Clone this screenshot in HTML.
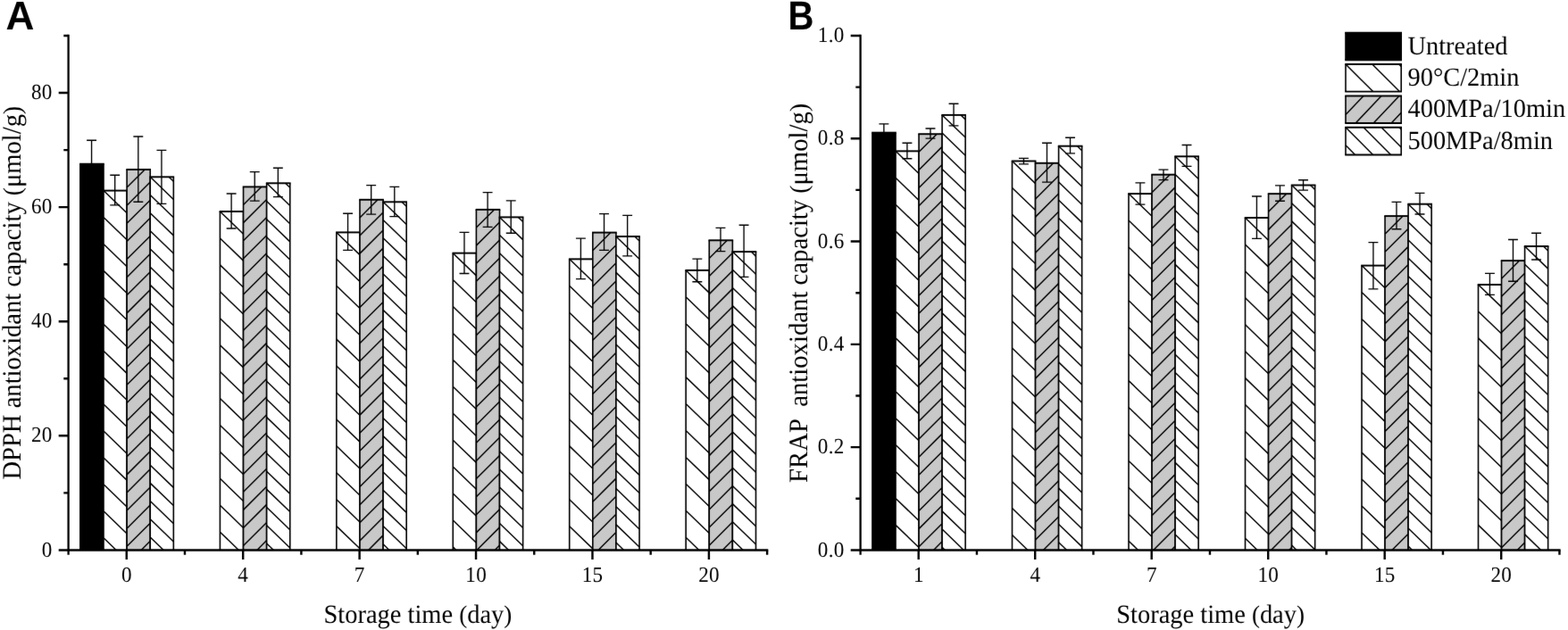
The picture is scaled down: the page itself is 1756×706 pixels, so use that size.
<!DOCTYPE html>
<html lang="en">
<head>
<meta charset="utf-8">
<title>Antioxidant capacity during storage</title>
<style>
html,body{margin:0;padding:0;background:#fff;}
body{width:1756px;height:706px;overflow:hidden;}
svg{display:block;}
text{font-family:"Liberation Serif",serif;fill:#000;white-space:pre;text-rendering:geometricPrecision;}
.tk{font-size:23.1px;letter-spacing:0.3px;}
.tx{font-size:28.45px;}
.pr{font-size:0.95em;}
.lg{font-size:28.4px;}
.pl{font-family:"Liberation Sans",sans-serif;font-weight:bold;font-size:43.3px;}
</style>
</head>
<body>
<svg width="1756" height="706" viewBox="0 0 1756 706" role="img" aria-label="Antioxidant capacity bar charts">
<defs><filter id="soft" x="0" y="0" width="1756" height="706" filterUnits="userSpaceOnUse" color-interpolation-filters="sRGB"><feConvolveMatrix order="3" kernelMatrix="0.00276 0.04704 0.00276 0.04704 0.80077 0.04704 0.00276 0.04704 0.00276" edgeMode="duplicate" preserveAlpha="true"/></filter></defs>
<g filter="url(#soft)">
<rect x="-10" y="-10" width="1776" height="726" fill="#fff"/>
<g id="panel-A">
<g class="bars"><rect x="89.86" y="183.75" width="26.12" height="432.65" fill="#000"/><path d="M89.86 183.75V616.4M115.98 183.75V616.4" fill="none" stroke="#000" stroke-width="1.6"/><path d="M89.06 183.75H116.78" fill="none" stroke="#000" stroke-width="1.95"/>
<rect x="115.98" y="213.6" width="26.12" height="402.8" fill="#fff"/><path d="M115.98 213.6L142.1 238.81M115.98 243.53L142.1 268.74M115.98 273.46L142.1 298.67M115.98 303.39L142.1 328.6M115.98 333.32L142.1 358.53M115.98 363.25L142.1 388.46M115.98 393.18L142.1 418.39M115.98 423.11L142.1 448.32M115.98 453.04L142.1 478.25M115.98 482.97L142.1 508.18M115.98 512.9L142.1 538.11M115.98 542.83L142.1 568.04M115.98 572.76L142.1 597.97M115.98 602.69L130.19 616.4" fill="none" stroke="#000" stroke-width="1.45"/><path d="M115.98 213.6V616.4M142.1 213.6V616.4" fill="none" stroke="#000" stroke-width="1.6"/><path d="M115.18 213.6H142.9" fill="none" stroke="#000" stroke-width="1.95"/>
<rect x="142.1" y="190" width="26.12" height="426.4" fill="#c8c8c8"/><path d="M142.1 210.11L162.21 190M142.1 230.22L168.22 204.1M142.1 250.33L168.22 224.21M142.1 270.44L168.22 244.32M142.1 290.55L168.22 264.43M142.1 310.66L168.22 284.54M142.1 330.77L168.22 304.65M142.1 350.88L168.22 324.76M142.1 370.99L168.22 344.87M142.1 391.1L168.22 364.98M142.1 411.21L168.22 385.09M142.1 431.32L168.22 405.2M142.1 451.43L168.22 425.31M142.1 471.54L168.22 445.42M142.1 491.65L168.22 465.53M142.1 511.76L168.22 485.64M142.1 531.87L168.22 505.75M142.1 551.98L168.22 525.86M142.1 572.09L168.22 545.97M142.1 592.2L168.22 566.08M142.1 612.31L168.22 586.19M158.12 616.4L168.22 606.3" fill="none" stroke="#000" stroke-width="1.45"/><path d="M142.1 190V616.4M168.22 190V616.4" fill="none" stroke="#000" stroke-width="1.6"/><path d="M141.3 190H169.02" fill="none" stroke="#000" stroke-width="1.95"/>
<rect x="168.22" y="198.3" width="26.12" height="418.1" fill="#fff"/><path d="M189.13 198.3L194.34 203.33M168.22 198.3L194.34 223.51M168.22 218.48L194.34 243.69M168.22 238.66L194.34 263.87M168.22 258.84L194.34 284.05M168.22 279.02L194.34 304.23M168.22 299.2L194.34 324.41M168.22 319.38L194.34 344.59M168.22 339.56L194.34 364.77M168.22 359.74L194.34 384.95M168.22 379.92L194.34 405.13M168.22 400.1L194.34 425.31M168.22 420.28L194.34 445.49M168.22 440.46L194.34 465.67M168.22 460.64L194.34 485.85M168.22 480.82L194.34 506.03M168.22 501L194.34 526.21M168.22 521.18L194.34 546.39M168.22 541.36L194.34 566.57M168.22 561.54L194.34 586.75M168.22 581.72L194.34 606.93M168.22 601.9L183.25 616.4" fill="none" stroke="#000" stroke-width="1.45"/><path d="M168.22 198.3V616.4M194.34 198.3V616.4" fill="none" stroke="#000" stroke-width="1.6"/><path d="M167.42 198.3H195.14" fill="none" stroke="#000" stroke-width="1.95"/>
<rect x="246.41" y="237" width="26.12" height="379.4" fill="#fff"/><path d="M246.41 237L272.53 262.21M246.41 266.93L272.53 292.14M246.41 296.86L272.53 322.07M246.41 326.79L272.53 352M246.41 356.72L272.53 381.93M246.41 386.65L272.53 411.86M246.41 416.58L272.53 441.79M246.41 446.51L272.53 471.72M246.41 476.44L272.53 501.65M246.41 506.37L272.53 531.58M246.41 536.3L272.53 561.51M246.41 566.23L272.53 591.44M246.41 596.16L267.38 616.4" fill="none" stroke="#000" stroke-width="1.45"/><path d="M246.41 237V616.4M272.53 237V616.4" fill="none" stroke="#000" stroke-width="1.6"/><path d="M245.61 237H273.33" fill="none" stroke="#000" stroke-width="1.95"/>
<rect x="272.53" y="209.4" width="26.12" height="407" fill="#c8c8c8"/><path d="M272.53 229.51L292.64 209.4M272.53 249.62L298.65 223.5M272.53 269.73L298.65 243.61M272.53 289.84L298.65 263.72M272.53 309.95L298.65 283.83M272.53 330.06L298.65 303.94M272.53 350.17L298.65 324.05M272.53 370.28L298.65 344.16M272.53 390.39L298.65 364.27M272.53 410.5L298.65 384.38M272.53 430.61L298.65 404.49M272.53 450.72L298.65 424.6M272.53 470.83L298.65 444.71M272.53 490.94L298.65 464.82M272.53 511.05L298.65 484.93M272.53 531.16L298.65 505.04M272.53 551.27L298.65 525.15M272.53 571.38L298.65 545.26M272.53 591.49L298.65 565.37M272.53 611.6L298.65 585.48M287.84 616.4L298.65 605.59" fill="none" stroke="#000" stroke-width="1.45"/><path d="M272.53 209.4V616.4M298.65 209.4V616.4" fill="none" stroke="#000" stroke-width="1.6"/><path d="M271.73 209.4H299.45" fill="none" stroke="#000" stroke-width="1.95"/>
<rect x="298.65" y="205.3" width="26.12" height="411.1" fill="#fff"/><path d="M319.56 205.3L324.77 210.33M298.65 205.3L324.77 230.51M298.65 225.48L324.77 250.69M298.65 245.66L324.77 270.87M298.65 265.84L324.77 291.05M298.65 286.02L324.77 311.23M298.65 306.2L324.77 331.41M298.65 326.38L324.77 351.59M298.65 346.56L324.77 371.77M298.65 366.74L324.77 391.95M298.65 386.92L324.77 412.13M298.65 407.1L324.77 432.31M298.65 427.28L324.77 452.49M298.65 447.46L324.77 472.67M298.65 467.64L324.77 492.85M298.65 487.82L324.77 513.03M298.65 508L324.77 533.21M298.65 528.18L324.77 553.39M298.65 548.36L324.77 573.57M298.65 568.54L324.77 593.75M298.65 588.72L324.77 613.93M298.65 608.9L306.42 616.4" fill="none" stroke="#000" stroke-width="1.45"/><path d="M298.65 205.3V616.4M324.77 205.3V616.4" fill="none" stroke="#000" stroke-width="1.6"/><path d="M297.85 205.3H325.57" fill="none" stroke="#000" stroke-width="1.95"/>
<rect x="376.84" y="260.4" width="26.12" height="356" fill="#fff"/><path d="M376.84 260.4L402.96 285.61M376.84 290.33L402.96 315.54M376.84 320.26L402.96 345.47M376.84 350.19L402.96 375.4M376.84 380.12L402.96 405.33M376.84 410.05L402.96 435.26M376.84 439.98L402.96 465.19M376.84 469.91L402.96 495.12M376.84 499.84L402.96 525.05M376.84 529.77L402.96 554.98M376.84 559.7L402.96 584.91M376.84 589.63L402.96 614.84" fill="none" stroke="#000" stroke-width="1.45"/><path d="M376.84 260.4V616.4M402.96 260.4V616.4" fill="none" stroke="#000" stroke-width="1.6"/><path d="M376.04 260.4H403.76" fill="none" stroke="#000" stroke-width="1.95"/>
<rect x="402.96" y="223.8" width="26.12" height="392.6" fill="#c8c8c8"/><path d="M402.96 243.91L423.07 223.8M402.96 264.02L429.08 237.9M402.96 284.13L429.08 258.01M402.96 304.24L429.08 278.12M402.96 324.35L429.08 298.23M402.96 344.46L429.08 318.34M402.96 364.57L429.08 338.45M402.96 384.68L429.08 358.56M402.96 404.79L429.08 378.67M402.96 424.9L429.08 398.78M402.96 445.01L429.08 418.89M402.96 465.12L429.08 439M402.96 485.23L429.08 459.11M402.96 505.34L429.08 479.22M402.96 525.45L429.08 499.33M402.96 545.56L429.08 519.44M402.96 565.67L429.08 539.55M402.96 585.78L429.08 559.66M402.96 605.89L429.08 579.77M412.56 616.4L429.08 599.88" fill="none" stroke="#000" stroke-width="1.45"/><path d="M402.96 223.8V616.4M429.08 223.8V616.4" fill="none" stroke="#000" stroke-width="1.6"/><path d="M402.16 223.8H429.88" fill="none" stroke="#000" stroke-width="1.95"/>
<rect x="429.08" y="226.3" width="26.12" height="390.1" fill="#fff"/><path d="M449.99 226.3L455.2 231.33M429.08 226.3L455.2 251.51M429.08 246.48L455.2 271.69M429.08 266.66L455.2 291.87M429.08 286.84L455.2 312.05M429.08 307.02L455.2 332.23M429.08 327.2L455.2 352.41M429.08 347.38L455.2 372.59M429.08 367.56L455.2 392.77M429.08 387.74L455.2 412.95M429.08 407.92L455.2 433.13M429.08 428.1L455.2 453.31M429.08 448.28L455.2 473.49M429.08 468.46L455.2 493.67M429.08 488.64L455.2 513.85M429.08 508.82L455.2 534.03M429.08 529L455.2 554.21M429.08 549.18L455.2 574.39M429.08 569.36L455.2 594.57M429.08 589.54L455.2 614.75M429.08 609.72L436 616.4" fill="none" stroke="#000" stroke-width="1.45"/><path d="M429.08 226.3V616.4M455.2 226.3V616.4" fill="none" stroke="#000" stroke-width="1.6"/><path d="M428.28 226.3H456" fill="none" stroke="#000" stroke-width="1.95"/>
<rect x="507.27" y="283.65" width="26.12" height="332.75" fill="#fff"/><path d="M507.27 283.65L533.39 308.86M507.27 313.58L533.39 338.79M507.27 343.51L533.39 368.72M507.27 373.44L533.39 398.65M507.27 403.37L533.39 428.58M507.27 433.3L533.39 458.51M507.27 463.23L533.39 488.44M507.27 493.16L533.39 518.37M507.27 523.09L533.39 548.3M507.27 553.02L533.39 578.23M507.27 582.95L533.39 608.16M507.27 612.88L510.92 616.4" fill="none" stroke="#000" stroke-width="1.45"/><path d="M507.27 283.65V616.4M533.39 283.65V616.4" fill="none" stroke="#000" stroke-width="1.6"/><path d="M506.47 283.65H534.19" fill="none" stroke="#000" stroke-width="1.95"/>
<rect x="533.39" y="234.9" width="26.12" height="381.5" fill="#c8c8c8"/><path d="M533.39 255.01L553.5 234.9M533.39 275.12L559.51 249M533.39 295.23L559.51 269.11M533.39 315.34L559.51 289.22M533.39 335.45L559.51 309.33M533.39 355.56L559.51 329.44M533.39 375.67L559.51 349.55M533.39 395.78L559.51 369.66M533.39 415.89L559.51 389.77M533.39 436L559.51 409.88M533.39 456.11L559.51 429.99M533.39 476.22L559.51 450.1M533.39 496.33L559.51 470.21M533.39 516.44L559.51 490.32M533.39 536.55L559.51 510.43M533.39 556.66L559.51 530.54M533.39 576.77L559.51 550.65M533.39 596.88L559.51 570.76M533.98 616.4L559.51 590.87M554.09 616.4L559.51 610.98" fill="none" stroke="#000" stroke-width="1.45"/><path d="M533.39 234.9V616.4M559.51 234.9V616.4" fill="none" stroke="#000" stroke-width="1.6"/><path d="M532.59 234.9H560.31" fill="none" stroke="#000" stroke-width="1.95"/>
<rect x="559.51" y="243.4" width="26.12" height="373" fill="#fff"/><path d="M580.42 243.4L585.63 248.43M559.51 243.4L585.63 268.61M559.51 263.58L585.63 288.79M559.51 283.76L585.63 308.97M559.51 303.94L585.63 329.15M559.51 324.12L585.63 349.33M559.51 344.3L585.63 369.51M559.51 364.48L585.63 389.69M559.51 384.66L585.63 409.87M559.51 404.84L585.63 430.05M559.51 425.02L585.63 450.23M559.51 445.2L585.63 470.41M559.51 465.38L585.63 490.59M559.51 485.56L585.63 510.77M559.51 505.74L585.63 530.95M559.51 525.92L585.63 551.13M559.51 546.1L585.63 571.31M559.51 566.28L585.63 591.49M559.51 586.46L585.63 611.67M559.51 606.64L569.62 616.4" fill="none" stroke="#000" stroke-width="1.45"/><path d="M559.51 243.4V616.4M585.63 243.4V616.4" fill="none" stroke="#000" stroke-width="1.6"/><path d="M558.71 243.4H586.43" fill="none" stroke="#000" stroke-width="1.95"/>
<rect x="637.7" y="290.35" width="26.12" height="326.05" fill="#fff"/><path d="M637.7 290.35L663.82 315.56M637.7 320.28L663.82 345.49M637.7 350.21L663.82 375.42M637.7 380.14L663.82 405.35M637.7 410.07L663.82 435.28M637.7 440L663.82 465.21M637.7 469.93L663.82 495.14M637.7 499.86L663.82 525.07M637.7 529.79L663.82 555M637.7 559.72L663.82 584.93M637.7 589.65L663.82 614.86" fill="none" stroke="#000" stroke-width="1.45"/><path d="M637.7 290.35V616.4M663.82 290.35V616.4" fill="none" stroke="#000" stroke-width="1.6"/><path d="M636.9 290.35H664.62" fill="none" stroke="#000" stroke-width="1.95"/>
<rect x="663.82" y="260.6" width="26.12" height="355.8" fill="#c8c8c8"/><path d="M663.82 280.71L683.93 260.6M663.82 300.82L689.94 274.7M663.82 320.93L689.94 294.81M663.82 341.04L689.94 314.92M663.82 361.15L689.94 335.03M663.82 381.26L689.94 355.14M663.82 401.37L689.94 375.25M663.82 421.48L689.94 395.36M663.82 441.59L689.94 415.47M663.82 461.7L689.94 435.58M663.82 481.81L689.94 455.69M663.82 501.92L689.94 475.8M663.82 522.03L689.94 495.91M663.82 542.14L689.94 516.02M663.82 562.25L689.94 536.13M663.82 582.36L689.94 556.24M663.82 602.47L689.94 576.35M670 616.4L689.94 596.46" fill="none" stroke="#000" stroke-width="1.45"/><path d="M663.82 260.6V616.4M689.94 260.6V616.4" fill="none" stroke="#000" stroke-width="1.6"/><path d="M663.02 260.6H690.74" fill="none" stroke="#000" stroke-width="1.95"/>
<rect x="689.94" y="265" width="26.12" height="351.4" fill="#fff"/><path d="M710.85 265L716.06 270.03M689.94 265L716.06 290.21M689.94 285.18L716.06 310.39M689.94 305.36L716.06 330.57M689.94 325.54L716.06 350.75M689.94 345.72L716.06 370.93M689.94 365.9L716.06 391.11M689.94 386.08L716.06 411.29M689.94 406.26L716.06 431.47M689.94 426.44L716.06 451.65M689.94 446.62L716.06 471.83M689.94 466.8L716.06 492.01M689.94 486.98L716.06 512.19M689.94 507.16L716.06 532.37M689.94 527.34L716.06 552.55M689.94 547.52L716.06 572.73M689.94 567.7L716.06 592.91M689.94 587.88L716.06 613.09M689.94 608.06L698.58 616.4" fill="none" stroke="#000" stroke-width="1.45"/><path d="M689.94 265V616.4M716.06 265V616.4" fill="none" stroke="#000" stroke-width="1.6"/><path d="M689.14 265H716.86" fill="none" stroke="#000" stroke-width="1.95"/>
<rect x="768.13" y="302.9" width="26.12" height="313.5" fill="#fff"/><path d="M768.13 302.9L794.25 328.11M768.13 332.83L794.25 358.04M768.13 362.76L794.25 387.97M768.13 392.69L794.25 417.9M768.13 422.62L794.25 447.83M768.13 452.55L794.25 477.76M768.13 482.48L794.25 507.69M768.13 512.41L794.25 537.62M768.13 542.34L794.25 567.55M768.13 572.27L794.25 597.48M768.13 602.2L782.85 616.4" fill="none" stroke="#000" stroke-width="1.45"/><path d="M768.13 302.9V616.4M794.25 302.9V616.4" fill="none" stroke="#000" stroke-width="1.6"/><path d="M767.33 302.9H795.05" fill="none" stroke="#000" stroke-width="1.95"/>
<rect x="794.25" y="269.3" width="26.12" height="347.1" fill="#c8c8c8"/><path d="M794.25 289.41L814.36 269.3M794.25 309.52L820.37 283.4M794.25 329.63L820.37 303.51M794.25 349.74L820.37 323.62M794.25 369.85L820.37 343.73M794.25 389.96L820.37 363.84M794.25 410.07L820.37 383.95M794.25 430.18L820.37 404.06M794.25 450.29L820.37 424.17M794.25 470.4L820.37 444.28M794.25 490.51L820.37 464.39M794.25 510.62L820.37 484.5M794.25 530.73L820.37 504.61M794.25 550.84L820.37 524.72M794.25 570.95L820.37 544.83M794.25 591.06L820.37 564.94M794.25 611.17L820.37 585.05M809.13 616.4L820.37 605.16" fill="none" stroke="#000" stroke-width="1.45"/><path d="M794.25 269.3V616.4M820.37 269.3V616.4" fill="none" stroke="#000" stroke-width="1.6"/><path d="M793.45 269.3H821.17" fill="none" stroke="#000" stroke-width="1.95"/>
<rect x="820.37" y="282.1" width="26.12" height="334.3" fill="#fff"/><path d="M841.28 282.1L846.49 287.13M820.37 282.1L846.49 307.31M820.37 302.28L846.49 327.49M820.37 322.46L846.49 347.67M820.37 342.64L846.49 367.85M820.37 362.82L846.49 388.03M820.37 383L846.49 408.21M820.37 403.18L846.49 428.39M820.37 423.36L846.49 448.57M820.37 443.54L846.49 468.75M820.37 463.72L846.49 488.93M820.37 483.9L846.49 509.11M820.37 504.08L846.49 529.29M820.37 524.26L846.49 549.47M820.37 544.44L846.49 569.65M820.37 564.62L846.49 589.83M820.37 584.8L846.49 610.01M820.37 604.98L832.2 616.4" fill="none" stroke="#000" stroke-width="1.45"/><path d="M820.37 282.1V616.4M846.49 282.1V616.4" fill="none" stroke="#000" stroke-width="1.6"/><path d="M819.57 282.1H847.29" fill="none" stroke="#000" stroke-width="1.95"/></g>
<g class="err" fill="none" stroke="#000" stroke-width="1.35"><path d="M102.57 157.2V209.4M97.12 157.2H108.02M97.12 209.4H108.02"/>
<path d="M128.69 196.2V229.9M123.24 196.2H134.14M123.24 229.9H134.14"/>
<path d="M154.81 153V226.2M149.36 153H160.26M149.36 226.2H160.26"/>
<path d="M180.93 168.4V228.3M175.48 168.4H186.38M175.48 228.3H186.38"/>
<path d="M259.12 217V255.95M253.67 217H264.57M253.67 255.95H264.57"/>
<path d="M285.24 192.55V225.06M279.79 192.55H290.69M279.79 225.06H290.69"/>
<path d="M311.36 188.2V220.6M305.91 188.2H316.81M305.91 220.6H316.81"/>
<path d="M389.55 239.2V280.4M384.1 239.2H395M384.1 280.4H395"/>
<path d="M415.67 207.6V240.1M410.22 207.6H421.12M410.22 240.1H421.12"/>
<path d="M441.79 209.3V242.6M436.34 209.3H447.24M436.34 242.6H447.24"/>
<path d="M519.98 260.4V306.5M514.53 260.4H525.43M514.53 306.5H525.43"/>
<path d="M546.1 215.6V254.3M540.65 215.6H551.55M540.65 254.3H551.55"/>
<path d="M572.22 224.8V261.2M566.77 224.8H577.67M566.77 261.2H577.67"/>
<path d="M650.41 267.1V312.6M644.96 267.1H655.86M644.96 312.6H655.86"/>
<path d="M676.53 239.6V280.4M671.08 239.6H681.98M671.08 280.4H681.98"/>
<path d="M702.65 241.4V286.9M697.2 241.4H708.1M697.2 286.9H708.1"/>
<path d="M780.84 290.1V315.7M775.39 290.1H786.29M775.39 315.7H786.29"/>
<path d="M806.96 255.4V281.6M801.51 255.4H812.41M801.51 281.6H812.41"/>
<path d="M833.08 252.2V310.3M827.63 252.2H838.53M827.63 310.3H838.53"/></g>
<path d="M76.6 38.8V621.7" fill="none" stroke="#000" stroke-width="2.3"/>
<path d="M65.7 616.4H860.26" fill="none" stroke="#000" stroke-width="2.45"/>
<path d="M71.3 552.36H76.6M65.7 488.31H76.6M71.3 424.27H76.6M65.7 360.22H76.6M71.3 296.18H76.6M65.7 232.13H76.6M71.3 168.09H76.6M65.7 104.04H76.6M71.3 40H76.6M141.75 616.4V627.1M206.97 616.4V621.7M272.18 616.4V627.1M337.39 616.4V621.7M402.61 616.4V627.1M467.83 616.4V621.7M533.04 616.4V627.1M598.25 616.4V621.7M663.47 616.4V627.1M728.69 616.4V621.7M793.9 616.4V627.1M859.12 616.4V621.7" fill="none" stroke="#000" stroke-width="2.4"/>
<text class="tk" text-anchor="end" transform="translate(58.7 623.5) scale(1 1.06)">0</text>
<text class="tk" text-anchor="end" transform="translate(58.7 495.41) scale(1 1.06)">20</text>
<text class="tk" text-anchor="end" transform="translate(58.7 367.32) scale(1 1.06)">40</text>
<text class="tk" text-anchor="end" transform="translate(58.7 239.23) scale(1 1.06)">60</text>
<text class="tk" text-anchor="end" transform="translate(58.7 111.14) scale(1 1.06)">80</text>
<text class="tk" text-anchor="middle" transform="translate(141.85 652.1) scale(1 1.06)">0</text>
<text class="tk" text-anchor="middle" transform="translate(272.28 652.1) scale(1 1.06)">4</text>
<text class="tk" text-anchor="middle" transform="translate(402.71 652.1) scale(1 1.06)">7</text>
<text class="tk" text-anchor="middle" transform="translate(533.14 652.1) scale(1 1.06)">10</text>
<text class="tk" text-anchor="middle" transform="translate(663.57 652.1) scale(1 1.06)">15</text>
<text class="tk" text-anchor="middle" transform="translate(794 652.1) scale(1 1.06)">20</text>
<text class="tx" text-anchor="middle" transform="translate(467.9 697.6) scale(1 1.04)">Storage time <tspan class="pr">(</tspan>day<tspan class="pr">)</tspan></text>
<text class="ti" text-anchor="middle" font-size="28.6" transform="translate(22.7 328.3) rotate(-90) scale(1 1.04)">DPPH antioxidant capacity <tspan class="pr">(</tspan>μmol/g<tspan class="pr">)</tspan></text>
</g>
<g id="panel-B">
<g class="bars"><rect x="976.95" y="148.65" width="26.05" height="467.75" fill="#000"/><path d="M976.95 148.65V616.4M1003 148.65V616.4" fill="none" stroke="#000" stroke-width="1.6"/><path d="M976.15 148.65H1003.8" fill="none" stroke="#000" stroke-width="1.95"/>
<rect x="1003" y="169.35" width="26.05" height="447.05" fill="#fff"/><path d="M1003 169.35L1029.05 194.49M1003 199.28L1029.05 224.42M1003 229.21L1029.05 254.35M1003 259.14L1029.05 284.28M1003 289.07L1029.05 314.21M1003 319L1029.05 344.14M1003 348.93L1029.05 374.07M1003 378.86L1029.05 404M1003 408.79L1029.05 433.93M1003 438.72L1029.05 463.86M1003 468.65L1029.05 493.79M1003 498.58L1029.05 523.72M1003 528.51L1029.05 553.65M1003 558.44L1029.05 583.58M1003 588.37L1029.05 613.51" fill="none" stroke="#000" stroke-width="1.45"/><path d="M1003 169.35V616.4M1029.05 169.35V616.4" fill="none" stroke="#000" stroke-width="1.6"/><path d="M1002.2 169.35H1029.85" fill="none" stroke="#000" stroke-width="1.95"/>
<rect x="1029.05" y="150.2" width="26.05" height="466.2" fill="#c8c8c8"/><path d="M1029.05 170.31L1049.16 150.2M1029.05 190.42L1055.1 164.37M1029.05 210.53L1055.1 184.48M1029.05 230.64L1055.1 204.59M1029.05 250.75L1055.1 224.7M1029.05 270.86L1055.1 244.81M1029.05 290.97L1055.1 264.92M1029.05 311.08L1055.1 285.03M1029.05 331.19L1055.1 305.14M1029.05 351.3L1055.1 325.25M1029.05 371.41L1055.1 345.36M1029.05 391.52L1055.1 365.47M1029.05 411.63L1055.1 385.58M1029.05 431.74L1055.1 405.69M1029.05 451.85L1055.1 425.8M1029.05 471.96L1055.1 445.91M1029.05 492.07L1055.1 466.02M1029.05 512.18L1055.1 486.13M1029.05 532.29L1055.1 506.24M1029.05 552.4L1055.1 526.35M1029.05 572.51L1055.1 546.46M1029.05 592.62L1055.1 566.57M1029.05 612.73L1055.1 586.68M1045.49 616.4L1055.1 606.79" fill="none" stroke="#000" stroke-width="1.45"/><path d="M1029.05 150.2V616.4M1055.1 150.2V616.4" fill="none" stroke="#000" stroke-width="1.6"/><path d="M1028.25 150.2H1055.9" fill="none" stroke="#000" stroke-width="1.95"/>
<rect x="1055.1" y="128.9" width="26.05" height="487.5" fill="#fff"/><path d="M1076.01 128.9L1081.15 133.86M1055.1 128.9L1081.15 154.04M1055.1 149.08L1081.15 174.22M1055.1 169.26L1081.15 194.4M1055.1 189.44L1081.15 214.58M1055.1 209.62L1081.15 234.76M1055.1 229.8L1081.15 254.94M1055.1 249.98L1081.15 275.12M1055.1 270.16L1081.15 295.3M1055.1 290.34L1081.15 315.48M1055.1 310.52L1081.15 335.66M1055.1 330.7L1081.15 355.84M1055.1 350.88L1081.15 376.02M1055.1 371.06L1081.15 396.2M1055.1 391.24L1081.15 416.38M1055.1 411.42L1081.15 436.56M1055.1 431.6L1081.15 456.74M1055.1 451.78L1081.15 476.92M1055.1 471.96L1081.15 497.1M1055.1 492.14L1081.15 517.28M1055.1 512.32L1081.15 537.46M1055.1 532.5L1081.15 557.64M1055.1 552.68L1081.15 577.82M1055.1 572.86L1081.15 598M1055.1 593.04L1079.31 616.4M1055.1 613.22L1058.4 616.4" fill="none" stroke="#000" stroke-width="1.45"/><path d="M1055.1 128.9V616.4M1081.15 128.9V616.4" fill="none" stroke="#000" stroke-width="1.6"/><path d="M1054.3 128.9H1081.95" fill="none" stroke="#000" stroke-width="1.95"/>
<rect x="1133.5" y="180.5" width="26.05" height="435.9" fill="#fff"/><path d="M1133.5 180.5L1159.55 205.64M1133.5 210.43L1159.55 235.57M1133.5 240.36L1159.55 265.5M1133.5 270.29L1159.55 295.43M1133.5 300.22L1159.55 325.36M1133.5 330.15L1159.55 355.29M1133.5 360.08L1159.55 385.22M1133.5 390.01L1159.55 415.15M1133.5 419.94L1159.55 445.08M1133.5 449.87L1159.55 475.01M1133.5 479.8L1159.55 504.94M1133.5 509.73L1159.55 534.87M1133.5 539.66L1159.55 564.8M1133.5 569.59L1159.55 594.73M1133.5 599.52L1150.99 616.4" fill="none" stroke="#000" stroke-width="1.45"/><path d="M1133.5 180.5V616.4M1159.55 180.5V616.4" fill="none" stroke="#000" stroke-width="1.6"/><path d="M1132.7 180.5H1160.35" fill="none" stroke="#000" stroke-width="1.95"/>
<rect x="1159.55" y="182.8" width="26.05" height="433.6" fill="#c8c8c8"/><path d="M1159.55 202.91L1179.66 182.8M1159.55 223.02L1185.6 196.97M1159.55 243.13L1185.6 217.08M1159.55 263.24L1185.6 237.19M1159.55 283.35L1185.6 257.3M1159.55 303.46L1185.6 277.41M1159.55 323.57L1185.6 297.52M1159.55 343.68L1185.6 317.63M1159.55 363.79L1185.6 337.74M1159.55 383.9L1185.6 357.85M1159.55 404.01L1185.6 377.96M1159.55 424.12L1185.6 398.07M1159.55 444.23L1185.6 418.18M1159.55 464.34L1185.6 438.29M1159.55 484.45L1185.6 458.4M1159.55 504.56L1185.6 478.51M1159.55 524.67L1185.6 498.62M1159.55 544.78L1185.6 518.73M1159.55 564.89L1185.6 538.84M1159.55 585L1185.6 558.95M1159.55 605.11L1185.6 579.06M1168.37 616.4L1185.6 599.17" fill="none" stroke="#000" stroke-width="1.45"/><path d="M1159.55 182.8V616.4M1185.6 182.8V616.4" fill="none" stroke="#000" stroke-width="1.6"/><path d="M1158.75 182.8H1186.4" fill="none" stroke="#000" stroke-width="1.95"/>
<rect x="1185.6" y="163.7" width="26.05" height="452.7" fill="#fff"/><path d="M1206.51 163.7L1211.65 168.66M1185.6 163.7L1211.65 188.84M1185.6 183.88L1211.65 209.02M1185.6 204.06L1211.65 229.2M1185.6 224.24L1211.65 249.38M1185.6 244.42L1211.65 269.56M1185.6 264.6L1211.65 289.74M1185.6 284.78L1211.65 309.92M1185.6 304.96L1211.65 330.1M1185.6 325.14L1211.65 350.28M1185.6 345.32L1211.65 370.46M1185.6 365.5L1211.65 390.64M1185.6 385.68L1211.65 410.82M1185.6 405.86L1211.65 431M1185.6 426.04L1211.65 451.18M1185.6 446.22L1211.65 471.36M1185.6 466.4L1211.65 491.54M1185.6 486.58L1211.65 511.72M1185.6 506.76L1211.65 531.9M1185.6 526.94L1211.65 552.08M1185.6 547.12L1211.65 572.26M1185.6 567.3L1211.65 592.44M1185.6 587.48L1211.65 612.62M1185.6 607.66L1194.66 616.4" fill="none" stroke="#000" stroke-width="1.45"/><path d="M1185.6 163.7V616.4M1211.65 163.7V616.4" fill="none" stroke="#000" stroke-width="1.6"/><path d="M1184.8 163.7H1212.45" fill="none" stroke="#000" stroke-width="1.95"/>
<rect x="1264" y="217.1" width="26.05" height="399.3" fill="#fff"/><path d="M1264 217.1L1290.05 242.24M1264 247.03L1290.05 272.17M1264 276.96L1290.05 302.1M1264 306.89L1290.05 332.03M1264 336.82L1290.05 361.96M1264 366.75L1290.05 391.89M1264 396.68L1290.05 421.82M1264 426.61L1290.05 451.75M1264 456.54L1290.05 481.68M1264 486.47L1290.05 511.61M1264 516.4L1290.05 541.54M1264 546.33L1290.05 571.47M1264 576.26L1290.05 601.4M1264 606.19L1274.58 616.4" fill="none" stroke="#000" stroke-width="1.45"/><path d="M1264 217.1V616.4M1290.05 217.1V616.4" fill="none" stroke="#000" stroke-width="1.6"/><path d="M1263.2 217.1H1290.85" fill="none" stroke="#000" stroke-width="1.95"/>
<rect x="1290.05" y="195.7" width="26.05" height="420.7" fill="#c8c8c8"/><path d="M1290.05 215.81L1310.16 195.7M1290.05 235.92L1316.1 209.87M1290.05 256.03L1316.1 229.98M1290.05 276.14L1316.1 250.09M1290.05 296.25L1316.1 270.2M1290.05 316.36L1316.1 290.31M1290.05 336.47L1316.1 310.42M1290.05 356.58L1316.1 330.53M1290.05 376.69L1316.1 350.64M1290.05 396.8L1316.1 370.75M1290.05 416.91L1316.1 390.86M1290.05 437.02L1316.1 410.97M1290.05 457.13L1316.1 431.08M1290.05 477.24L1316.1 451.19M1290.05 497.35L1316.1 471.3M1290.05 517.46L1316.1 491.41M1290.05 537.57L1316.1 511.52M1290.05 557.68L1316.1 531.63M1290.05 577.79L1316.1 551.74M1290.05 597.9L1316.1 571.85M1291.66 616.4L1316.1 591.96M1311.77 616.4L1316.1 612.07" fill="none" stroke="#000" stroke-width="1.45"/><path d="M1290.05 195.7V616.4M1316.1 195.7V616.4" fill="none" stroke="#000" stroke-width="1.6"/><path d="M1289.25 195.7H1316.9" fill="none" stroke="#000" stroke-width="1.95"/>
<rect x="1316.1" y="175.3" width="26.05" height="441.1" fill="#fff"/><path d="M1337.01 175.3L1342.15 180.26M1316.1 175.3L1342.15 200.44M1316.1 195.48L1342.15 220.62M1316.1 215.66L1342.15 240.8M1316.1 235.84L1342.15 260.98M1316.1 256.02L1342.15 281.16M1316.1 276.2L1342.15 301.34M1316.1 296.38L1342.15 321.52M1316.1 316.56L1342.15 341.7M1316.1 336.74L1342.15 361.88M1316.1 356.92L1342.15 382.06M1316.1 377.1L1342.15 402.24M1316.1 397.28L1342.15 422.42M1316.1 417.46L1342.15 442.6M1316.1 437.64L1342.15 462.78M1316.1 457.82L1342.15 482.96M1316.1 478L1342.15 503.14M1316.1 498.18L1342.15 523.32M1316.1 518.36L1342.15 543.5M1316.1 538.54L1342.15 563.68M1316.1 558.72L1342.15 583.86M1316.1 578.9L1342.15 604.04M1316.1 599.08L1334.05 616.4" fill="none" stroke="#000" stroke-width="1.45"/><path d="M1316.1 175.3V616.4M1342.15 175.3V616.4" fill="none" stroke="#000" stroke-width="1.6"/><path d="M1315.3 175.3H1342.95" fill="none" stroke="#000" stroke-width="1.95"/>
<rect x="1394.5" y="244.05" width="26.05" height="372.35" fill="#fff"/><path d="M1394.5 244.05L1420.55 269.19M1394.5 273.98L1420.55 299.12M1394.5 303.91L1420.55 329.05M1394.5 333.84L1420.55 358.98M1394.5 363.77L1420.55 388.91M1394.5 393.7L1420.55 418.84M1394.5 423.63L1420.55 448.77M1394.5 453.56L1420.55 478.7M1394.5 483.49L1420.55 508.63M1394.5 513.42L1420.55 538.56M1394.5 543.35L1420.55 568.49M1394.5 573.28L1420.55 598.42M1394.5 603.21L1408.17 616.4" fill="none" stroke="#000" stroke-width="1.45"/><path d="M1394.5 244.05V616.4M1420.55 244.05V616.4" fill="none" stroke="#000" stroke-width="1.6"/><path d="M1393.7 244.05H1421.35" fill="none" stroke="#000" stroke-width="1.95"/>
<rect x="1420.55" y="217.15" width="26.05" height="399.25" fill="#c8c8c8"/><path d="M1420.55 237.26L1440.66 217.15M1420.55 257.37L1446.6 231.32M1420.55 277.48L1446.6 251.43M1420.55 297.59L1446.6 271.54M1420.55 317.7L1446.6 291.65M1420.55 337.81L1446.6 311.76M1420.55 357.92L1446.6 331.87M1420.55 378.03L1446.6 351.98M1420.55 398.14L1446.6 372.09M1420.55 418.25L1446.6 392.2M1420.55 438.36L1446.6 412.31M1420.55 458.47L1446.6 432.42M1420.55 478.58L1446.6 452.53M1420.55 498.69L1446.6 472.64M1420.55 518.8L1446.6 492.75M1420.55 538.91L1446.6 512.86M1420.55 559.02L1446.6 532.97M1420.55 579.13L1446.6 553.08M1420.55 599.24L1446.6 573.19M1423.5 616.4L1446.6 593.3M1443.61 616.4L1446.6 613.41" fill="none" stroke="#000" stroke-width="1.45"/><path d="M1420.55 217.15V616.4M1446.6 217.15V616.4" fill="none" stroke="#000" stroke-width="1.6"/><path d="M1419.75 217.15H1447.4" fill="none" stroke="#000" stroke-width="1.95"/>
<rect x="1446.6" y="207.5" width="26.05" height="408.9" fill="#fff"/><path d="M1467.51 207.5L1472.65 212.46M1446.6 207.5L1472.65 232.64M1446.6 227.68L1472.65 252.82M1446.6 247.86L1472.65 273M1446.6 268.04L1472.65 293.18M1446.6 288.22L1472.65 313.36M1446.6 308.4L1472.65 333.54M1446.6 328.58L1472.65 353.72M1446.6 348.76L1472.65 373.9M1446.6 368.94L1472.65 394.08M1446.6 389.12L1472.65 414.26M1446.6 409.3L1472.65 434.44M1446.6 429.48L1472.65 454.62M1446.6 449.66L1472.65 474.8M1446.6 469.84L1472.65 494.98M1446.6 490.02L1472.65 515.16M1446.6 510.2L1472.65 535.34M1446.6 530.38L1472.65 555.52M1446.6 550.56L1472.65 575.7M1446.6 570.74L1472.65 595.88M1446.6 590.92L1472.65 616.06M1446.6 611.1L1452.09 616.4" fill="none" stroke="#000" stroke-width="1.45"/><path d="M1446.6 207.5V616.4M1472.65 207.5V616.4" fill="none" stroke="#000" stroke-width="1.6"/><path d="M1445.8 207.5H1473.45" fill="none" stroke="#000" stroke-width="1.95"/>
<rect x="1525" y="297.6" width="26.05" height="318.8" fill="#fff"/><path d="M1525 297.6L1551.05 322.74M1525 327.53L1551.05 352.67M1525 357.46L1551.05 382.6M1525 387.39L1551.05 412.53M1525 417.32L1551.05 442.46M1525 447.25L1551.05 472.39M1525 477.18L1551.05 502.32M1525 507.11L1551.05 532.25M1525 537.04L1551.05 562.18M1525 566.97L1551.05 592.11M1525 596.9L1545.21 616.4" fill="none" stroke="#000" stroke-width="1.45"/><path d="M1525 297.6V616.4M1551.05 297.6V616.4" fill="none" stroke="#000" stroke-width="1.6"/><path d="M1524.2 297.6H1551.85" fill="none" stroke="#000" stroke-width="1.95"/>
<rect x="1551.05" y="242.1" width="26.05" height="374.3" fill="#c8c8c8"/><path d="M1551.05 262.21L1571.16 242.1M1551.05 282.32L1577.1 256.27M1551.05 302.43L1577.1 276.38M1551.05 322.54L1577.1 296.49M1551.05 342.65L1577.1 316.6M1551.05 362.76L1577.1 336.71M1551.05 382.87L1577.1 356.82M1551.05 402.98L1577.1 376.93M1551.05 423.09L1577.1 397.04M1551.05 443.2L1577.1 417.15M1551.05 463.31L1577.1 437.26M1551.05 483.42L1577.1 457.37M1551.05 503.53L1577.1 477.48M1551.05 523.64L1577.1 497.59M1551.05 543.75L1577.1 517.7M1551.05 563.86L1577.1 537.81M1551.05 583.97L1577.1 557.92M1551.05 604.08L1577.1 578.03M1558.84 616.4L1577.1 598.14" fill="none" stroke="#000" stroke-width="1.45"/><path d="M1551.05 242.1V616.4M1577.1 242.1V616.4" fill="none" stroke="#000" stroke-width="1.6"/><path d="M1550.25 242.1H1577.9" fill="none" stroke="#000" stroke-width="1.95"/>
<rect x="1577.1" y="228.7" width="26.05" height="387.7" fill="#fff"/><path d="M1598.01 228.7L1603.15 233.66M1577.1 228.7L1603.15 253.84M1577.1 248.88L1603.15 274.02M1577.1 269.06L1603.15 294.2M1577.1 289.24L1603.15 314.38M1577.1 309.42L1603.15 334.56M1577.1 329.6L1603.15 354.74M1577.1 349.78L1603.15 374.92M1577.1 369.96L1603.15 395.1M1577.1 390.14L1603.15 415.28M1577.1 410.32L1603.15 435.46M1577.1 430.5L1603.15 455.64M1577.1 450.68L1603.15 475.82M1577.1 470.86L1603.15 496M1577.1 491.04L1603.15 516.18M1577.1 511.22L1603.15 536.36M1577.1 531.4L1603.15 556.54M1577.1 551.58L1603.15 576.72M1577.1 571.76L1603.15 596.9M1577.1 591.94L1602.45 616.4M1577.1 612.12L1581.54 616.4" fill="none" stroke="#000" stroke-width="1.45"/><path d="M1577.1 228.7V616.4M1603.15 228.7V616.4" fill="none" stroke="#000" stroke-width="1.6"/><path d="M1576.3 228.7H1603.95" fill="none" stroke="#000" stroke-width="1.95"/>
<rect x="1655.5" y="319" width="26.05" height="297.4" fill="#fff"/><path d="M1655.5 319L1681.55 344.14M1655.5 348.93L1681.55 374.07M1655.5 378.86L1681.55 404M1655.5 408.79L1681.55 433.93M1655.5 438.72L1681.55 463.86M1655.5 468.65L1681.55 493.79M1655.5 498.58L1681.55 523.72M1655.5 528.51L1681.55 553.65M1655.5 558.44L1681.55 583.58M1655.5 588.37L1681.55 613.51" fill="none" stroke="#000" stroke-width="1.45"/><path d="M1655.5 319V616.4M1681.55 319V616.4" fill="none" stroke="#000" stroke-width="1.6"/><path d="M1654.7 319H1682.35" fill="none" stroke="#000" stroke-width="1.95"/>
<rect x="1681.55" y="292.1" width="26.05" height="324.3" fill="#c8c8c8"/><path d="M1681.55 312.21L1701.66 292.1M1681.55 332.32L1707.6 306.27M1681.55 352.43L1707.6 326.38M1681.55 372.54L1707.6 346.49M1681.55 392.65L1707.6 366.6M1681.55 412.76L1707.6 386.71M1681.55 432.87L1707.6 406.82M1681.55 452.98L1707.6 426.93M1681.55 473.09L1707.6 447.04M1681.55 493.2L1707.6 467.15M1681.55 513.31L1707.6 487.26M1681.55 533.42L1707.6 507.37M1681.55 553.53L1707.6 527.48M1681.55 573.64L1707.6 547.59M1681.55 593.75L1707.6 567.7M1681.55 613.86L1707.6 587.81M1699.12 616.4L1707.6 607.92" fill="none" stroke="#000" stroke-width="1.45"/><path d="M1681.55 292.1V616.4M1707.6 292.1V616.4" fill="none" stroke="#000" stroke-width="1.6"/><path d="M1680.75 292.1H1708.4" fill="none" stroke="#000" stroke-width="1.95"/>
<rect x="1707.6" y="276" width="26.05" height="340.4" fill="#fff"/><path d="M1728.51 276L1733.65 280.96M1707.6 276L1733.65 301.14M1707.6 296.18L1733.65 321.32M1707.6 316.36L1733.65 341.5M1707.6 336.54L1733.65 361.68M1707.6 356.72L1733.65 381.86M1707.6 376.9L1733.65 402.04M1707.6 397.08L1733.65 422.22M1707.6 417.26L1733.65 442.4M1707.6 437.44L1733.65 462.58M1707.6 457.62L1733.65 482.76M1707.6 477.8L1733.65 502.94M1707.6 497.98L1733.65 523.12M1707.6 518.16L1733.65 543.3M1707.6 538.34L1733.65 563.48M1707.6 558.52L1733.65 583.66M1707.6 578.7L1733.65 603.84M1707.6 598.88L1725.76 616.4" fill="none" stroke="#000" stroke-width="1.45"/><path d="M1707.6 276V616.4M1733.65 276V616.4" fill="none" stroke="#000" stroke-width="1.6"/><path d="M1706.8 276H1734.45" fill="none" stroke="#000" stroke-width="1.95"/></g>
<g class="err" fill="none" stroke="#000" stroke-width="1.35"><path d="M989.87 138.9V158.4M984.42 138.9H995.32M984.42 158.4H995.32"/>
<path d="M1015.92 160.2V177.7M1010.47 160.2H1021.38M1010.47 177.7H1021.38"/>
<path d="M1041.97 143.95V155.1M1036.52 143.95H1047.42M1036.52 155.1H1047.42"/>
<path d="M1068.03 116.2V140.9M1062.58 116.2H1073.48M1062.58 140.9H1073.48"/>
<path d="M1146.43 177.3V183.9M1140.98 177.3H1151.88M1140.98 183.9H1151.88"/>
<path d="M1172.47 160.25V204.1M1167.02 160.25H1177.92M1167.02 204.1H1177.92"/>
<path d="M1198.53 154.2V171.9M1193.08 154.2H1203.98M1193.08 171.9H1203.98"/>
<path d="M1276.93 204.8V229.1M1271.48 204.8H1282.38M1271.48 229.1H1282.38"/>
<path d="M1302.97 190.1V201.6M1297.52 190.1H1308.42M1297.52 201.6H1308.42"/>
<path d="M1329.03 162.5V186.4M1323.58 162.5H1334.48M1323.58 186.4H1334.48"/>
<path d="M1407.43 220V267.4M1401.98 220H1412.88M1401.98 267.4H1412.88"/>
<path d="M1433.47 207.9V225.25M1428.02 207.9H1438.92M1428.02 225.25H1438.92"/>
<path d="M1459.53 201.7V213.15M1454.08 201.7H1464.98M1454.08 213.15H1464.98"/>
<path d="M1537.93 271.6V323.8M1532.48 271.6H1543.38M1532.48 323.8H1543.38"/>
<path d="M1563.97 226.4V256.7M1558.52 226.4H1569.42M1558.52 256.7H1569.42"/>
<path d="M1590.03 216.4V240M1584.58 216.4H1595.48M1584.58 240H1595.48"/>
<path d="M1668.43 306.3V330.4M1662.98 306.3H1673.88M1662.98 330.4H1673.88"/>
<path d="M1694.47 268.45V315.2M1689.02 268.45H1699.92M1689.02 315.2H1699.92"/>
<path d="M1720.53 261.2V291M1715.08 261.2H1725.98M1715.08 291H1725.98"/></g>
<path d="M963.6 38.8V621.7" fill="none" stroke="#000" stroke-width="2.3"/>
<path d="M952.7 616.4H1747.6" fill="none" stroke="#000" stroke-width="2.45"/>
<path d="M958.3 558.76H963.6M952.7 501.12H963.6M958.3 443.48H963.6M952.7 385.84H963.6M958.3 328.2H963.6M952.7 270.56H963.6M958.3 212.92H963.6M952.7 155.28H963.6M958.3 97.64H963.6M952.7 40H963.6M1028.7 616.4V627.1M1093.95 616.4V621.7M1159.2 616.4V627.1M1224.45 616.4V621.7M1289.7 616.4V627.1M1354.95 616.4V621.7M1420.2 616.4V627.1M1485.45 616.4V621.7M1550.7 616.4V627.1M1615.95 616.4V621.7M1681.2 616.4V627.1M1746.45 616.4V621.7" fill="none" stroke="#000" stroke-width="2.4"/>
<text class="tk" text-anchor="end" transform="translate(945.6 623.5) scale(1 1.06)">0.0</text>
<text class="tk" text-anchor="end" transform="translate(945.6 508.22) scale(1 1.06)">0.2</text>
<text class="tk" text-anchor="end" transform="translate(945.6 392.94) scale(1 1.06)">0.4</text>
<text class="tk" text-anchor="end" transform="translate(945.6 277.66) scale(1 1.06)">0.6</text>
<text class="tk" text-anchor="end" transform="translate(945.6 162.38) scale(1 1.06)">0.8</text>
<text class="tk" text-anchor="end" transform="translate(945.6 47.1) scale(1 1.06)">1.0</text>
<text class="tk" text-anchor="middle" transform="translate(1028.8 652.1) scale(1 1.06)">1</text>
<text class="tk" text-anchor="middle" transform="translate(1159.3 652.1) scale(1 1.06)">4</text>
<text class="tk" text-anchor="middle" transform="translate(1289.8 652.1) scale(1 1.06)">7</text>
<text class="tk" text-anchor="middle" transform="translate(1420.3 652.1) scale(1 1.06)">10</text>
<text class="tk" text-anchor="middle" transform="translate(1550.8 652.1) scale(1 1.06)">15</text>
<text class="tk" text-anchor="middle" transform="translate(1681.3 652.1) scale(1 1.06)">20</text>
<text class="tx" text-anchor="middle" transform="translate(1355.6 697.6) scale(1 1.04)">Storage time <tspan class="pr">(</tspan>day<tspan class="pr">)</tspan></text>
<text class="ti" text-anchor="middle" font-size="28.72" transform="translate(904.3 328.5) rotate(-90) scale(1 1.04)">FRAP  antioxidant capacity <tspan class="pr">(</tspan>μmol/g<tspan class="pr">)</tspan></text>
</g>
<g id="legend">
<rect x="1507" y="36.6" width="62.2" height="30.6" fill="#000"/><path d="M1507 36.6V67.2M1569.2 36.6V67.2" fill="none" stroke="#000" stroke-width="1.6"/><path d="M1506.2 36.6H1570M1506.2 67.2H1570" fill="none" stroke="#000" stroke-width="1.95"/>
<text class="lg" transform="translate(1576.5 61.1) scale(1 1.03)">Untreated</text>
<rect x="1507" y="72" width="62.2" height="30.6" fill="#fff"/><path d="M1566.6 72L1569.2 74.6M1536.8 72L1567.4 102.6M1507 72L1537.6 102.6M1507 101.8L1507.8 102.6" fill="none" stroke="#000" stroke-width="1.45"/><path d="M1507 72V102.6M1569.2 72V102.6" fill="none" stroke="#000" stroke-width="1.6"/><path d="M1506.2 72H1570M1506.2 102.6H1570" fill="none" stroke="#000" stroke-width="1.95"/>
<text class="lg" transform="translate(1576.5 96.4) scale(1 1.03)">90°C/2min</text>
<rect x="1507" y="107.4" width="62.2" height="30.6" fill="#c8c8c8"/><path d="M1507 128.6L1527 107.4M1518.13 138L1547 107.4M1538.13 138L1567 107.4M1558.13 138L1569.2 126.27" fill="none" stroke="#000" stroke-width="1.45"/><path d="M1507 107.4V138M1569.2 107.4V138" fill="none" stroke="#000" stroke-width="1.6"/><path d="M1506.2 107.4H1570M1506.2 138H1570" fill="none" stroke="#000" stroke-width="1.95"/>
<text class="lg" transform="translate(1576.5 131.3) scale(1 1.03)">400MPa/10min</text>
<rect x="1507" y="142.8" width="62.2" height="30.6" fill="#fff"/><path d="M1567 142.8L1569.2 145M1547 142.8L1569.2 165M1527 142.8L1557.6 173.4M1507 142.8L1537.6 173.4M1507 162.8L1517.6 173.4" fill="none" stroke="#000" stroke-width="1.45"/><path d="M1507 142.8V173.4M1569.2 142.8V173.4" fill="none" stroke="#000" stroke-width="1.6"/><path d="M1506.2 142.8H1570M1506.2 173.4H1570" fill="none" stroke="#000" stroke-width="1.95"/>
<text class="lg" transform="translate(1576.5 166.9) scale(1 1.03)">500MPa/8min</text>
</g>
<text class="pl" transform="translate(6.4 32.6) scale(1.02 1.045)">A</text>
<text class="pl" transform="translate(882.5 32.7) scale(0.925 1.047)">B</text>
</g>
</svg>
</body>
</html>
